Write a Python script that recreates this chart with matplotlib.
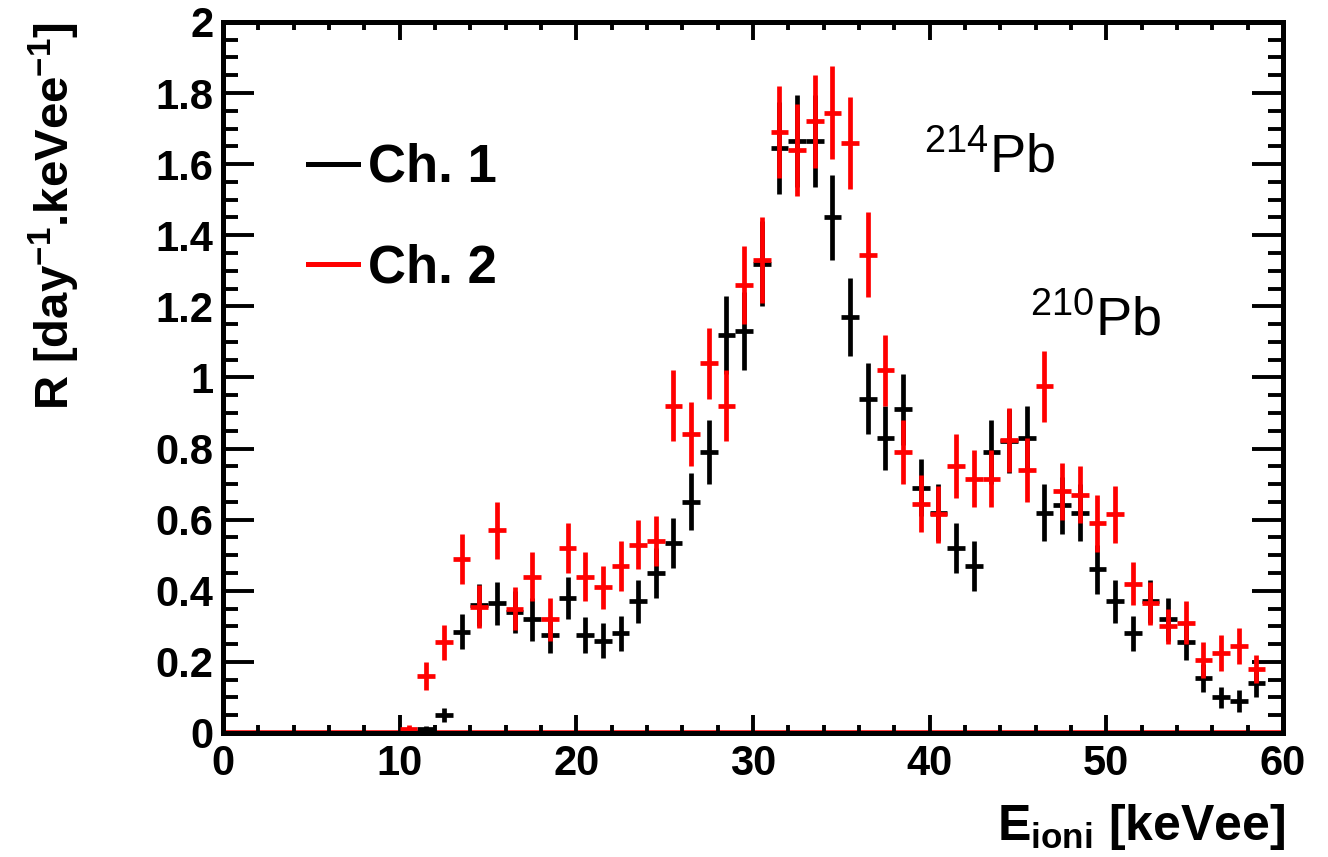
import numpy as np
import matplotlib
matplotlib.use("Agg")
import matplotlib.pyplot as plt
from matplotlib.lines import Line2D
from matplotlib.ticker import MultipleLocator

plt.rcParams['font.family'] = ['Liberation Sans', 'DejaVu Sans']
plt.rcParams['mathtext.default'] = 'regular'

# bin edges 0..60 keVee, 1 keVee per bin
bin_lo = np.arange(0, 60)
bin_w = 1.0

ch1_rate = [0, 0, 0, 0, 0, 0, 0, 0, 0, 0,
            0, 0.01, 0.05, 0.285, 0.36, 0.365, 0.34, 0.32, 0.275, 0.38,
            0.275, 0.26, 0.28, 0.37, 0.45, 0.535, 0.65, 0.79, 1.12, 1.13,
            1.32, 1.645, 1.665, 1.665, 1.45, 1.17, 0.94, 0.83, 0.91, 0.69,
            0.62, 0.52, 0.47, 0.79, 0.82, 0.83, 0.62, 0.64, 0.62, 0.46,
            0.37, 0.28, 0.37, 0.32, 0.255, 0.155, 0.10, 0.09, 0.14, 0]
ch1_err = [0, 0, 0, 0, 0, 0, 0, 0, 0, 0,
           0, 0.01, 0.02, 0.05, 0.06, 0.06, 0.06, 0.06, 0.05, 0.06,
           0.05, 0.05, 0.05, 0.06, 0.07, 0.07, 0.08, 0.09, 0.11, 0.11,
           0.12, 0.13, 0.13, 0.13, 0.12, 0.11, 0.10, 0.09, 0.10, 0.08,
           0.08, 0.07, 0.07, 0.09, 0.09, 0.09, 0.08, 0.08, 0.08, 0.07,
           0.06, 0.05, 0.06, 0.06, 0.05, 0.04, 0.03, 0.03, 0.04, 0]

ch2_rate = [0, 0, 0, 0, 0, 0, 0, 0, 0, 0,
            0.012, 0.16, 0.255, 0.49, 0.355, 0.57, 0.35, 0.44, 0.32, 0.52,
            0.44, 0.41, 0.47, 0.53, 0.54, 0.92, 0.84, 1.04, 0.92, 1.26,
            1.33, 1.69, 1.64, 1.72, 1.745, 1.66, 1.345, 1.02, 0.79, 0.645,
            0.615, 0.75, 0.715, 0.715, 0.825, 0.74, 0.975, 0.68, 0.67, 0.59,
            0.615, 0.42, 0.365, 0.30, 0.31, 0.205, 0.225, 0.245, 0.18, 0]
ch2_err = [0, 0, 0, 0, 0, 0, 0, 0, 0, 0,
           0.01, 0.04, 0.05, 0.07, 0.06, 0.08, 0.06, 0.07, 0.06, 0.07,
           0.07, 0.06, 0.07, 0.07, 0.07, 0.10, 0.09, 0.10, 0.10, 0.11,
           0.12, 0.13, 0.13, 0.13, 0.13, 0.13, 0.12, 0.10, 0.09, 0.08,
           0.08, 0.09, 0.08, 0.08, 0.09, 0.09, 0.10, 0.08, 0.08, 0.08,
           0.08, 0.06, 0.06, 0.05, 0.06, 0.05, 0.05, 0.05, 0.04, 0]

labels = ['Ch. 1', 'Ch. 2']
colors = ['black', '#ff0000']

x = bin_lo + bin_w / 2

fig = plt.figure(figsize=(13.28, 8.57), dpi=100)
ax = fig.add_axes([0.168, 0.1447, 0.798, 0.8297])

# baseline of the red histogram along the whole range
ax.axhline(0, color=colors[1], lw=4, zorder=1)

for rate, err, c in [(ch1_rate, ch1_err, colors[0]), (ch2_rate, ch2_err, colors[1])]:
    ax.errorbar(x, rate, xerr=bin_w / 2, yerr=err, fmt='none', ecolor=c,
                elinewidth=3.4, capsize=0)

ax.set_xlim(0, 60)
ax.set_ylim(0, 2)
ax.xaxis.set_major_locator(MultipleLocator(10))
ax.xaxis.set_minor_locator(MultipleLocator(2))
ax.yaxis.set_major_locator(MultipleLocator(0.2))
ax.yaxis.set_minor_locator(MultipleLocator(0.05))
ax.yaxis.set_major_formatter(plt.FuncFormatter(lambda v, p: '%g' % round(v, 2)))

for s in ax.spines.values():
    s.set_linewidth(3.6)
    s.set_zorder(3)
ax.tick_params(axis='both', which='both', direction='in', top=True, right=True, width=2.8)
ax.tick_params(axis='x', which='major', length=13, pad=8)
ax.tick_params(axis='x', which='minor', length=6)
ax.tick_params(axis='y', which='major', length=22, pad=7)
ax.tick_params(axis='y', which='minor', length=11)
for lab in ax.get_xticklabels() + ax.get_yticklabels():
    lab.set_fontsize(30)
    lab.set_fontweight('bold')

fig.text(1285 / 1328, 17 / 857, 'E$_{ioni}$ [keVee]', fontsize=36, fontweight='bold',
         ha='right', va='baseline')
fig.text(54 / 1328, 1 - 22 / 857, 'R [day$^{-1}$.keVee$^{-1}$]', fontsize=34,
         fontweight='bold', rotation=90, ha='center', va='top')

handles = [Line2D([], [], color=c, lw=3.6) for c in colors]
ax.legend(handles, labels, loc='upper left', bbox_to_anchor=(308 / 1328, 1 - 143 / 857),
          bbox_transform=fig.transFigure, frameon=False,
          prop={'size': 38, 'weight': 'bold'}, handlelength=0.94,
          handletextpad=0.2, labelspacing=0.95, borderpad=0, borderaxespad=0)

ax.text(39.7, 1.578, '$^{214}$Pb', fontsize=39, ha='left', va='baseline')
ax.text(45.7, 1.12, '$^{210}$Pb', fontsize=39, ha='left', va='baseline')

fig.savefig('out.png', dpi=100)
